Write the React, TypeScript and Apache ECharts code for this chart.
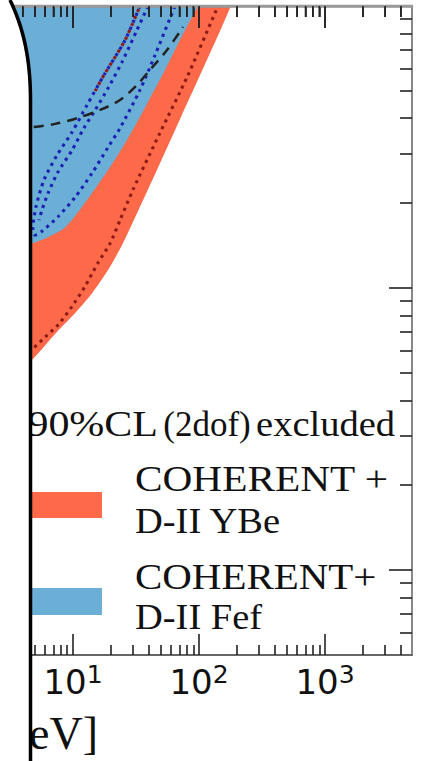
import React, { useEffect, useRef } from 'react';
import * as echarts from 'echarts';

// axis ranges (x: mediator mass, y: coupling)
const X_MIN = 2.634;
const X_MAX = 4898;
const Y_MIN = 5e-6;
const Y_MAX = 1e-3;

const xMajorTicks = [10, 100, 1000];
const xMinorTicks = [3, 4, 5, 6, 7, 8, 9, 20, 30, 40, 50, 60, 70, 80, 90, 200, 300, 400, 500, 600, 700, 800, 900, 2000, 3000, 4000];
const yMajorTicks = [1e-5, 1e-4, 1e-3];
const yMinorTicks = [6e-6, 7e-6, 8e-6, 9e-6, 2e-5, 3e-5, 4e-5, 5e-5, 6e-5, 7e-5, 8e-5, 9e-5, 2e-4, 3e-4, 4e-4, 5e-4, 6e-4, 7e-4, 8e-4, 9e-4];

const legendTitle = ['90%CL', '(2dof)', 'excluded'];
const legendYBe = ['COHERENT +', 'D-II YBe'];
const legendFef = ['COHERENT+', 'D-II Fef'];
const axisTitleFragment = 'eV]';

// lower edge of the COHERENT + D-II YBe excluded region
const redEdge = [
  [2.6, 4.5e-5], [4.56, 5.47e-5], [7.6, 7.05e-5], [10.4, 8.15e-5], [14.2, 9.6e-5],
  [19.0, 1.16e-4], [24.5, 1.42e-4], [34.0, 1.94e-4], [49.0, 2.77e-4], [70.6, 3.97e-4],
  [101.9, 5.69e-4], [146.8, 8.15e-4], [179, 1.0e-3],
];

// lower edge of the COHERENT + D-II Fef excluded region
const blueEdge = [
  [2.6, 1.41e-4], [4.64, 1.44e-4], [6.0, 1.5e-4], [8.64, 1.64e-4], [12.4, 2.0e-4],
  [19.0, 2.62e-4], [24.5, 3.13e-4], [31.0, 3.75e-4], [39.4, 4.57e-4], [52.7, 5.83e-4],
  [70.6, 7.57e-4], [98.2, 1.0e-3],
];

// small YBe sliver showing through the Fef region
const redSliver = [
  [4.16, 1.79e-4], [4.64, 1.79e-4], [4.9, 2.0e-4], [5.27, 2.14e-4], [5.78, 2.19e-4],
  [5.37, 2.08e-4], [5.08, 1.94e-4], [4.81, 1.7e-4], [4.64, 1.58e-4], [4.16, 1.58e-4],
];

// dark red dotted contour
const redDotted = [
  [2.6, 4.9e-5], [4.81, 6.1e-5], [6.0, 6.7e-5], [7.6, 7.4e-5], [9.8, 8.6e-5],
  [12.4, 1.01e-4], [15.8, 1.23e-4], [19.7, 1.44e-4], [23.6, 1.74e-4], [29.9, 2.23e-4],
  [49, 3.55e-4], [80.4, 5.6e-4], [134, 9.45e-4], [142, 1.0e-3],
];

// short dark red dotted piece along the outer blue contour
const redDottedUpper = [
  [34.0, 1.0e-3], [25.9, 7.57e-4], [17.6, 5.69e-4], [15.0, 5.0e-4],
];

// outer blue dotted contour (U shaped)
const blueDottedOuter = [
  [34.0, 1.0e-3], [25.9, 7.57e-4], [17.6, 5.69e-4], [12.9, 4.45e-4], [9.82, 3.57e-4],
  [7.47, 2.96e-4], [5.89, 2.42e-4], [5.08, 1.94e-4], [4.81, 1.63e-4], [4.99, 1.54e-4],
  [5.67, 1.59e-4], [7.6, 1.79e-4], [10.4, 2.1e-4], [14.2, 2.56e-4], [19.0, 3.16e-4],
  [23.6, 3.69e-4], [34.0, 5.04e-4], [44.8, 6.7e-4], [58.9, 9.06e-4], [64.5, 1.0e-3],
];

// inner blue dotted contour
const blueDottedInner = [
  [39.4, 1.0e-3], [32.2, 8.22e-4], [24.5, 6.33e-4], [19.0, 5.12e-4], [15.0, 4.28e-4],
  [12.2, 3.69e-4], [9.82, 3.08e-4], [7.6, 2.58e-4], [6.34, 2.17e-4], [5.67, 1.89e-4],
  [5.37, 1.74e-4],
];

// black dashed curve
const blackDashed = [
  [2.63, 3.63e-4], [4.81, 3.72e-4], [7.2, 3.82e-4], [10.9, 4.01e-4], [16.4, 4.28e-4],
  [23.6, 4.64e-4], [32.2, 5.25e-4], [40.8, 5.93e-4], [55.7, 6.98e-4], [74.6, 8.43e-4],
];

const RED = '#fc6a4a';
const BLUE = '#6baed6';
const DARK_RED = '#8e1a16';
const DARK_BLUE = '#1a22b4';
const TICK = { color: '#222', width: 1.6 };
const SERIF = 'Liberation Serif';
const W = 421;
const GRID = { left: 0, right: 9, top: 6, bottom: 106 };

function bezierPts(p0: number[], p1: number[], p2: number[], p3: number[], n: number) {
  const out: number[][] = [];
  for (let i = 0; i <= n; i++) {
    const t = i / n;
    const a = (1 - t) ** 3, b = 3 * (1 - t) ** 2 * t, c = 3 * (1 - t) * t * t, d = t ** 3;
    out.push([a * p0[0] + b * p1[0] + c * p2[0] + d * p3[0], a * p0[1] + b * p1[1] + c * p2[1] + d * p3[1]]);
  }
  return out;
}

function serifText(text: string, x: number, y: number, fontSize: number, scaleX: number, align: string) {
  return {
    type: 'text', x, y, z: 50, scaleX,
    style: { text, fontFamily: SERIF, fontSize, fill: '#111', align, verticalAlign: 'middle' },
  };
}

export default function App() {
  const ref = useRef<HTMLDivElement>(null);
  useEffect(() => {
    if (!ref.current) return;
    const chart = echarts.init(ref.current, undefined, { renderer: 'svg' });

    const xBase = {
      type: 'log', logBase: 10, min: X_MIN, max: X_MAX, z: 10,
      splitLine: { show: false }, minorTick: { show: false },
    };
    const yBase = {
      type: 'log', logBase: 10, min: Y_MIN, max: Y_MAX, z: 10,
      splitLine: { show: false }, minorTick: { show: false }, axisLabel: { show: false },
    };

    const curvePts = bezierPts([10, 0], [22, 25], [30.5, 55], [30.5, 100], 20);
    const maskPts = [[0, 0], ...curvePts.map((p) => [p[0] - 1.5, p[1]]), [29, 761], [0, 761]];

    const dotted = (color: string, offset = 0) => ({
      color, width: 3.1, type: [3.1, 4.4] as number[], dashOffset: offset, cap: 'butt',
    });

    // top frame ticks, placed on the same log mapping as the grid's x axis
    const gridW = W - GRID.left - GRID.right;
    const lx0 = Math.log10(X_MIN), lx1 = Math.log10(X_MAX);
    const xPix = (v: number) => GRID.left + ((Math.log10(v) - lx0) / (lx1 - lx0)) * gridW;
    const topFrame = [
      { type: 'line', z: 99, shape: { x1: GRID.left, y1: GRID.top, x2: GRID.left + gridW + 1, y2: GRID.top }, style: { stroke: '#999', lineWidth: 2.5 } },
      ...[...xMajorTicks, ...xMinorTicks].map((v) => ({
        type: 'line', z: 99,
        shape: { x1: xPix(v), y1: GRID.top, x2: xPix(v), y2: GRID.top + (xMajorTicks.includes(v) ? 22 : 11) },
        style: { stroke: TICK.color, lineWidth: TICK.width },
      })),
    ];

    const option: any = {
      animation: false,
      grid: [
        { ...GRID, containLabel: false },
        { left: GRID.left, right: GRID.right, top: GRID.top - 2, height: 2, containLabel: false, z: 10 },
      ],
      xAxis: [
        {
          ...xBase, gridIndex: 0, position: 'bottom',
          axisLine: { show: true, onZero: false, lineStyle: { color: '#666', width: 2 } },
          axisTick: { show: true, inside: true, length: 21, customValues: xMajorTicks, lineStyle: TICK },
          axisLabel: {
            show: true, customValues: xMajorTicks, margin: 7,
            formatter: (v: number) => `{b|10}{s|${Math.round(Math.log10(v))}}`,
            rich: {
              b: { fontSize: 34, fontFamily: 'DejaVu Sans', color: '#111', lineHeight: 40 },
              s: { fontSize: 25, fontFamily: 'DejaVu Sans', color: '#111', lineHeight: 25, verticalAlign: 'top' },
            },
          },
        },
        {
          ...xBase, gridIndex: 0, position: 'bottom',
          axisLine: { show: false },
          axisTick: { show: true, inside: true, length: 10, customValues: xMinorTicks, lineStyle: TICK },
          axisLabel: { show: false },
        },
        {
          ...xBase, gridIndex: 1, position: 'bottom', z: 20,
          axisLine: { show: true, onZero: false, lineStyle: { color: '#999', width: 2.5 } },
          axisTick: { show: true, inside: false, length: 22, customValues: xMajorTicks, lineStyle: TICK },
          axisLabel: { show: false },
        },
        {
          ...xBase, gridIndex: 1, position: 'bottom', z: 20,
          axisLine: { show: false },
          axisTick: { show: true, inside: false, length: 11, customValues: xMinorTicks, lineStyle: TICK },
          axisLabel: { show: false },
        },
      ],
      yAxis: [
        {
          ...yBase, gridIndex: 0, position: 'right',
          axisLine: { show: true, onZero: false, lineStyle: { color: '#888', width: 2 } },
          axisTick: { show: true, inside: true, length: 23, customValues: yMajorTicks, lineStyle: TICK },
        },
        {
          ...yBase, gridIndex: 0, position: 'right',
          axisLine: { show: false },
          axisTick: { show: true, inside: true, length: 12, customValues: yMinorTicks, lineStyle: TICK },
        },
        {
          ...yBase, gridIndex: 1, position: 'left', show: false,
        },
      ],
      series: [
        {
          type: 'line', name: legendYBe.join(' '), data: redEdge, symbol: 'none', smooth: 0.25,
          lineStyle: { width: 0, color: RED }, itemStyle: { color: RED },
          areaStyle: { color: RED, opacity: 1, origin: 'end' },
        },
        {
          type: 'line', name: legendFef.join(' '), data: blueEdge, symbol: 'none', smooth: 0.25,
          lineStyle: { width: 0, color: BLUE }, itemStyle: { color: BLUE },
          areaStyle: { color: BLUE, opacity: 1, origin: 'end' },
        },
        {
          type: 'custom', name: 'YBe sliver', coordinateSystem: 'cartesian2d', silent: true,
          data: [redSliver[0]],
          renderItem: (_p: any, api: any) => ({
            type: 'polygon',
            shape: { points: redSliver.map((d) => api.coord(d)), smooth: 0.3 },
            style: { fill: RED },
          }),
        },
        {
          type: 'line', name: 'YBe contour', data: redDotted, symbol: 'none', smooth: 0.25,
          lineStyle: dotted(DARK_RED), itemStyle: { color: DARK_RED },
        },
        {
          type: 'line', name: 'Fef outer contour', data: blueDottedOuter, symbol: 'none', smooth: 0.25,
          lineStyle: dotted(DARK_BLUE), itemStyle: { color: DARK_BLUE },
        },
        {
          type: 'line', name: 'Fef inner contour', data: blueDottedInner, symbol: 'none', smooth: 0.25,
          lineStyle: dotted(DARK_BLUE), itemStyle: { color: DARK_BLUE },
        },
        {
          type: 'line', name: 'YBe upper contour', data: redDottedUpper, symbol: 'none', smooth: 0.25,
          lineStyle: dotted(DARK_RED, 3.7), itemStyle: { color: DARK_RED },
        },
        {
          type: 'line', name: 'dashed bound', data: blackDashed, symbol: 'none', smooth: 0.3,
          lineStyle: { color: '#222', width: 2.5, type: [10, 7] }, itemStyle: { color: '#222' },
        },
      ],
      graphic: {
        elements: [
          ...topFrame,
          serifText(legendTitle[0], 158, 424, 35, 1.2, 'right'),
          serifText(legendTitle[1], 207, 424, 35, 1.0, 'center'),
          serifText(legendTitle[2], 395, 424, 35, 1.1, 'right'),
          { type: 'rect', z: 50, shape: { x: 32, y: 492, width: 70, height: 26 }, style: { fill: RED } },
          serifText(legendYBe[0], 135, 479.5, 35, 1.18, 'left'),
          serifText(legendYBe[1], 135, 521.5, 35, 1.1, 'left'),
          { type: 'rect', z: 50, shape: { x: 32, y: 588, width: 70, height: 27 }, style: { fill: BLUE } },
          serifText(legendFef[0], 135, 577, 35, 1.17, 'left'),
          serifText(legendFef[1], 135, 617, 35, 1.1, 'left'),
          serifText(axisTitleFragment, 98, 733.5, 46, 1.0, 'right'),
          {
            type: 'polygon', z: 100, shape: { points: maskPts },
            style: { fill: '#fff', stroke: 'none' },
          },
          {
            type: 'polyline', z: 101, shape: { points: curvePts },
            style: { stroke: '#000', lineWidth: 3.5, fill: 'none' },
          },
          {
            type: 'line', z: 101, shape: { x1: 30.5, y1: 100, x2: 30.5, y2: 761 },
            style: { stroke: '#000', lineWidth: 3.5 },
          },
        ],
      },
    };
    chart.setOption(option);
    return () => chart.dispose();
  }, []);
  return <div ref={ref} style={{ position: 'absolute', left: 0, top: 0, width: 421, height: 761 }} />;
}
